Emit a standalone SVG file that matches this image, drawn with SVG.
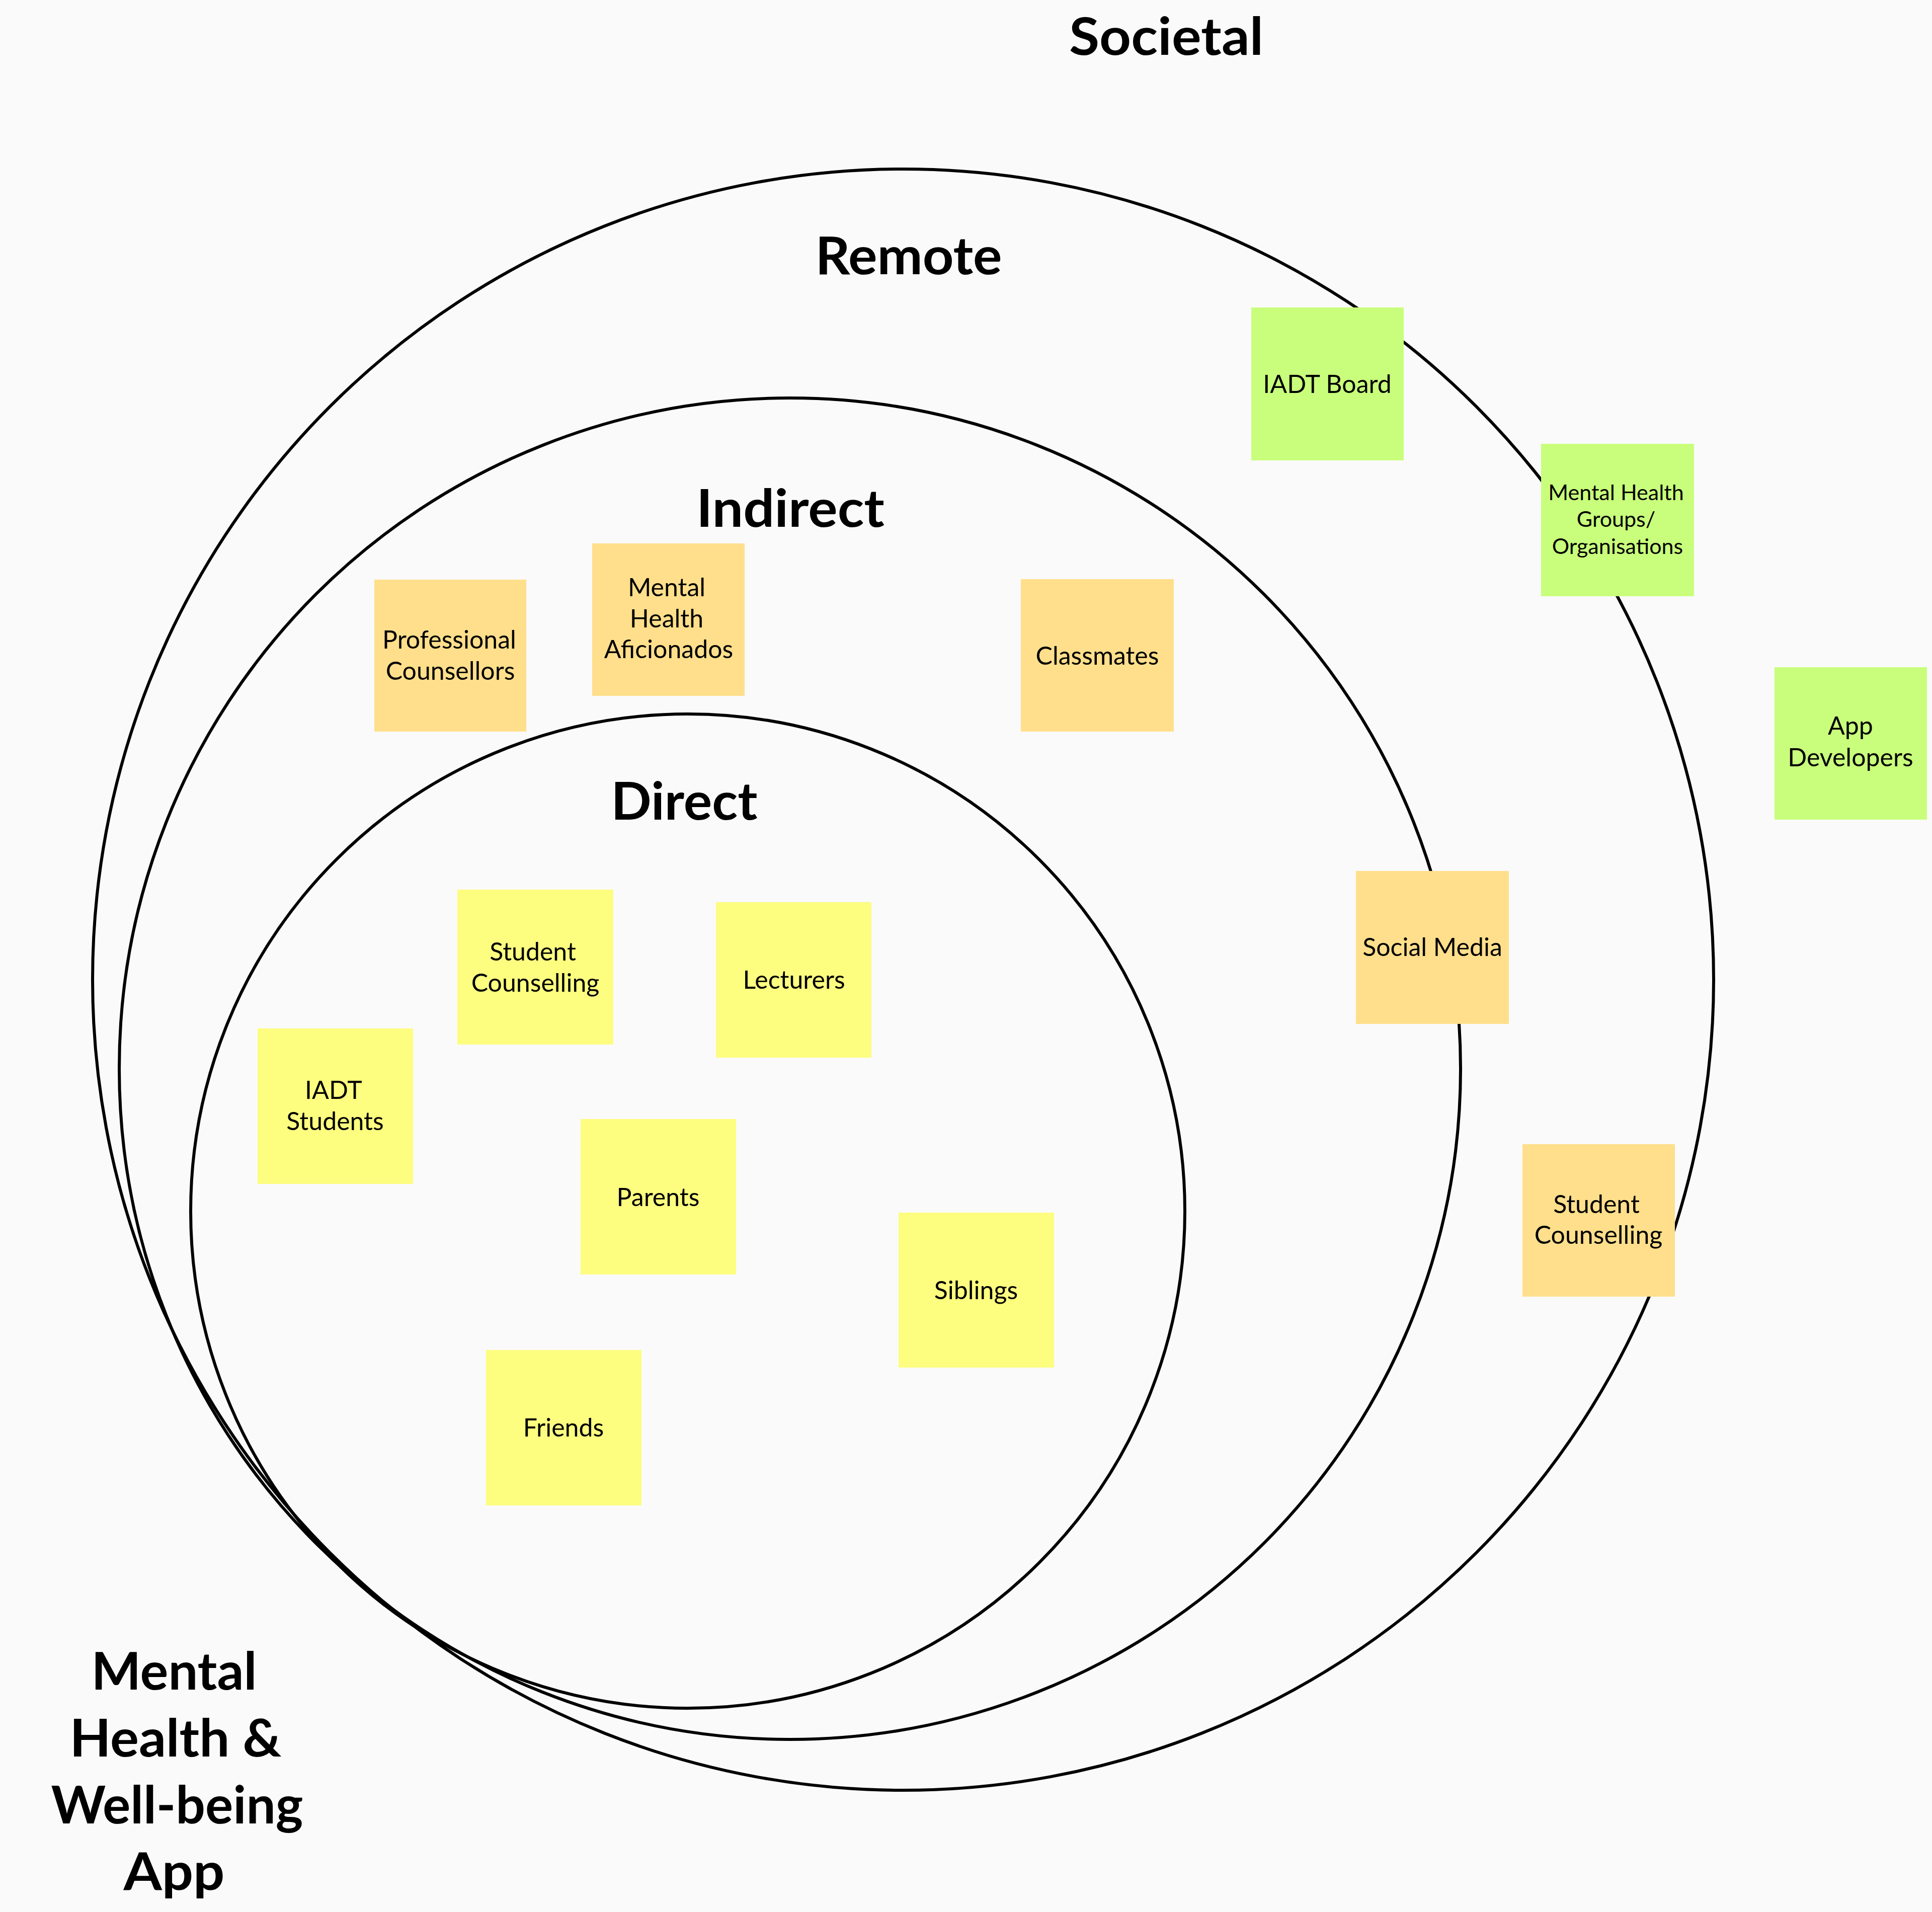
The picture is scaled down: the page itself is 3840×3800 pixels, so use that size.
<svg xmlns="http://www.w3.org/2000/svg" width="3840" height="3800" viewBox="0 0 3840 3800">
<style>
.ring{fill:none;stroke:#000;stroke-width:6}
.head{font-family:Lato,"Open Sans","Liberation Sans",sans-serif;font-weight:700;font-size:104px;fill:#000;text-anchor:middle}
.lbl{font-family:Lato,"Open Sans","Liberation Sans",sans-serif;font-size:50px;fill:#000;text-anchor:middle}
.sm{font-size:43px}
.y{fill:#FDFD80}
.o{fill:#FFDF8B}
.g{fill:#C9FE7C}
</style>
<rect x="0" y="0" width="3840" height="3800" fill="#FAFAFA"/>
<g id="rings">
<circle class="ring" cx="1795" cy="1947" r="1611"/>
<circle class="ring" cx="1570" cy="2124" r="1333"/>
<circle class="ring" cx="1367" cy="2407" r="988"/>
</g>
<g id="headings">
<text class="head" x="2318" y="109" textLength="386" lengthAdjust="spacingAndGlyphs">Societal</text>
<text class="head" x="1806" y="545" textLength="371" lengthAdjust="spacingAndGlyphs">Remote</text>
<text class="head" x="1571" y="1047" textLength="374" lengthAdjust="spacingAndGlyphs">Indirect</text>
<text class="head" x="1360" y="1629" textLength="291" lengthAdjust="spacingAndGlyphs">Direct</text>
</g>
<g id="title">
<text class="head" x="346" y="3358" textLength="329" lengthAdjust="spacingAndGlyphs">Mental</text>
<text class="head" x="349" y="3491" textLength="421" lengthAdjust="spacingAndGlyphs">Health &amp;</text>
<text class="head" x="352" y="3624" textLength="501" lengthAdjust="spacingAndGlyphs">Well-being</text>
<text class="head" x="346" y="3756" textLength="201" lengthAdjust="spacingAndGlyphs">App</text>
</g>
<g id="connectors"/>
<g id="iadt-board"><rect class="g" x="2487" y="611" width="303" height="304"/><text class="lbl" x="2638" y="781">IADT Board</text></g>
<g id="mental-health-groups"><rect class="g" x="3063" y="882" width="304" height="303"/><text class="lbl sm"><tspan x="3212" y="994">Mental Health</tspan><tspan x="3212" y="1047">Groups/</tspan><tspan x="3215" y="1101">Organisations</tspan></text></g>
<g id="app-developers"><rect class="g" x="3527" y="1326" width="303" height="303"/><text class="lbl"><tspan x="3678" y="1460">App</tspan><tspan x="3678" y="1523">Developers</tspan></text></g>
<g id="professional-counsellors"><rect class="o" x="744" y="1152" width="302" height="302"/><text class="lbl"><tspan x="893" y="1289">Professional</tspan><tspan x="895" y="1351">Counsellors</tspan></text></g>
<g id="mental-health-aficionados"><rect class="o" x="1177" y="1080" width="303" height="303"/><text class="lbl"><tspan x="1325" y="1185">Mental</tspan><tspan x="1325" y="1247">Health</tspan><tspan x="1329" y="1308">Aficionados</tspan></text></g>
<g id="classmates"><rect class="o" x="2029" y="1151" width="304" height="303"/><text class="lbl" x="2181" y="1321">Classmates</text></g>
<g id="social-media"><rect class="o" x="2695" y="1731" width="304" height="304"/><text class="lbl" x="2847" y="1900">Social Media</text></g>
<g id="student-counselling-remote"><rect class="o" x="3026" y="2274" width="303" height="303"/><text class="lbl"><tspan x="3173" y="2411">Student</tspan><tspan x="3177" y="2472">Counselling</tspan></text></g>
<g id="student-counselling"><rect class="y" x="909" y="1768" width="310" height="308"/><text class="lbl"><tspan x="1059" y="1909">Student</tspan><tspan x="1064" y="1971">Counselling</tspan></text></g>
<g id="lecturers"><rect class="y" x="1423" y="1793" width="309" height="309"/><text class="lbl" x="1578" y="1965">Lecturers</text></g>
<g id="iadt-students"><rect class="y" x="512" y="2044" width="309" height="309"/><text class="lbl"><tspan x="663" y="2184">IADT</tspan><tspan x="666" y="2246">Students</tspan></text></g>
<g id="parents"><rect class="y" x="1154" y="2224" width="309" height="309"/><text class="lbl" x="1308" y="2397">Parents</text></g>
<g id="siblings"><rect class="y" x="1786" y="2410" width="309" height="308"/><text class="lbl" x="1940" y="2582">Siblings</text></g>
<g id="friends"><rect class="y" x="966" y="2683" width="309" height="309"/><text class="lbl" x="1120" y="2855">Friends</text></g>
</svg>
